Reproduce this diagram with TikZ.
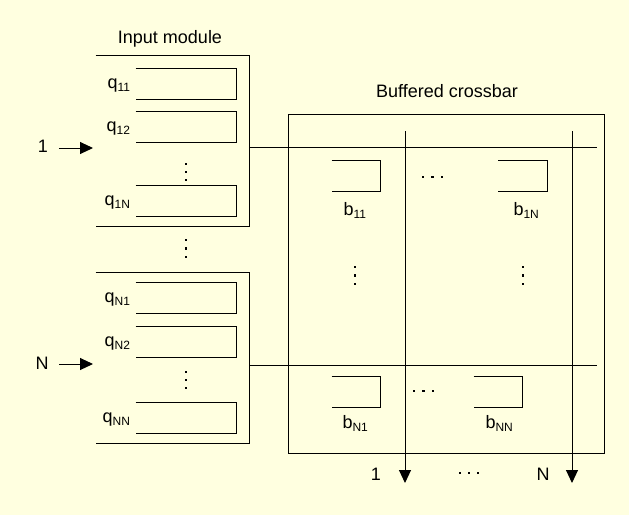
\documentclass[tikz,border=0pt]{standalone}
\usepackage{fontspec}
\setmainfont{Liberation Sans}
\usetikzlibrary{arrows.meta}

\definecolor{paper}{RGB}{255,255,224}
\newcommand{\sub}[1]{\raisebox{-3pt}{\fontsize{12}{12}\selectfont #1}}
\newcommand{\openbox}[1]{\draw (#1.north west) -- (#1.north east) -- (#1.south east) -- (#1.south west);}

\tikzset{
  queue/.style={minimum width=100pt, minimum height=30pt, inner sep=0pt},
  buf/.style={minimum width=48pt, minimum height=30pt, inner sep=0pt},
  module/.style={minimum width=153pt, minimum height=170pt, inner sep=0pt},
  arr/.style={-{Triangle[length=13pt,width=12pt]}},
}

\begin{document}
\begin{tikzpicture}[x=1pt, y=-1pt, line width=1pt, font=\fontsize{18}{22}\selectfont]

\fill[paper] (0,0) rectangle (629,515);

% input modules
\node[module] (m1) at (172.5,141) {};
\node[module] (mN) at (172.5,358) {};
\openbox{m1}
\openbox{mN}
\node (tin) [anchor=base] at (170,43) {Input module};

% virtual output queues
\node[queue] (q11) at (186,84) {};
\node[queue] (q12) at (186,127) {};
\node[queue] (q1N) at (186,200.5) {};
\node[queue] (qN1) at (186,298) {};
\node[queue] (qN2) at (186,342) {};
\node[queue] (qNN) at (186,418) {};
\foreach \q/\t in {q11/11,q12/12,q1N/1N,qN1/N1,qN2/N2,qNN/NN}{
  \openbox{\q}
  \node (l\q) [anchor=base east, inner sep=0pt] at ([xshift=-5pt,yshift=11pt]\q.south west) {q\sub{\t}};
}

% inputs
\node (in1) [anchor=base] at (43,152) {1};
\node (inN) [anchor=base] at (42,369) {N};
\coordinate (i1) at (93,148);
\coordinate (iN) at (93,364);
\draw[arr, shorten <=7pt] (in1.east |- i1) -- (i1);
\draw[arr, shorten <=7pt] (inN.east |- iN) -- (iN);

% crossbar
\node[draw, minimum width=316pt, minimum height=339pt, inner sep=0pt] (xbar) at (446,283.5) {};
\node (txb) [anchor=base] at (447,97) {Buffered crossbar};

\coordinate (r1) at (597,147);
\coordinate (rN) at (597,365);
\draw (m1.east |- r1) -- (r1);
\draw (mN.east |- rN) -- (rN);

\coordinate (c1) at (405,131);
\coordinate (cN) at (572,131);
\coordinate (o1) at (405,483);
\coordinate (oN) at (572,483);
\draw[arr] (c1) -- (o1);
\draw[arr] (cN) -- (oN);
\node (out1) [anchor=base] at (376,480) {1};
\node (outN) [anchor=base] at (543,480) {N};

% crosspoint buffers
\node[buf] (b11) at (356,176) {};
\node[buf] (b1N) at (522.5,176) {};
\node[buf] (bN1) at (356,392) {};
\node[buf] (bNN) at (498,392) {};
\foreach \bf in {b11,b1N,bN1,bNN}{\openbox{\bf}}
\node (lb11) [anchor=base west, inner sep=0pt] at (343,215) {b\sub{11}};
\node (lb1N) [anchor=base west, inner sep=0pt] at (513,215) {b\sub{1N}};
\node (lbN1) [anchor=base west, inner sep=0pt] at (342,428) {b\sub{N1}};
\node (lbNN) [anchor=base west, inner sep=0pt] at (485,428) {b\sub{NN}};

% dots
\foreach \x/\y in {186/164,186/172,186/180,186/240,186/248.5,186/257,186/372,186/380,186/388,
                   355/267,355/275.5,355/284,523/267,523/275.5,523/284}
  \fill (\x,\y) +(-1.2,-1.2) rectangle +(1.2,1.2);
\foreach \x/\y in {423/177,432.5/177,442/177,414/391,423.5/391,433/391,460/473,469/473,478/473}
  \fill (\x,\y) +(-1.2,-1.2) rectangle +(1.2,1.2);

\end{tikzpicture}
\end{document}
